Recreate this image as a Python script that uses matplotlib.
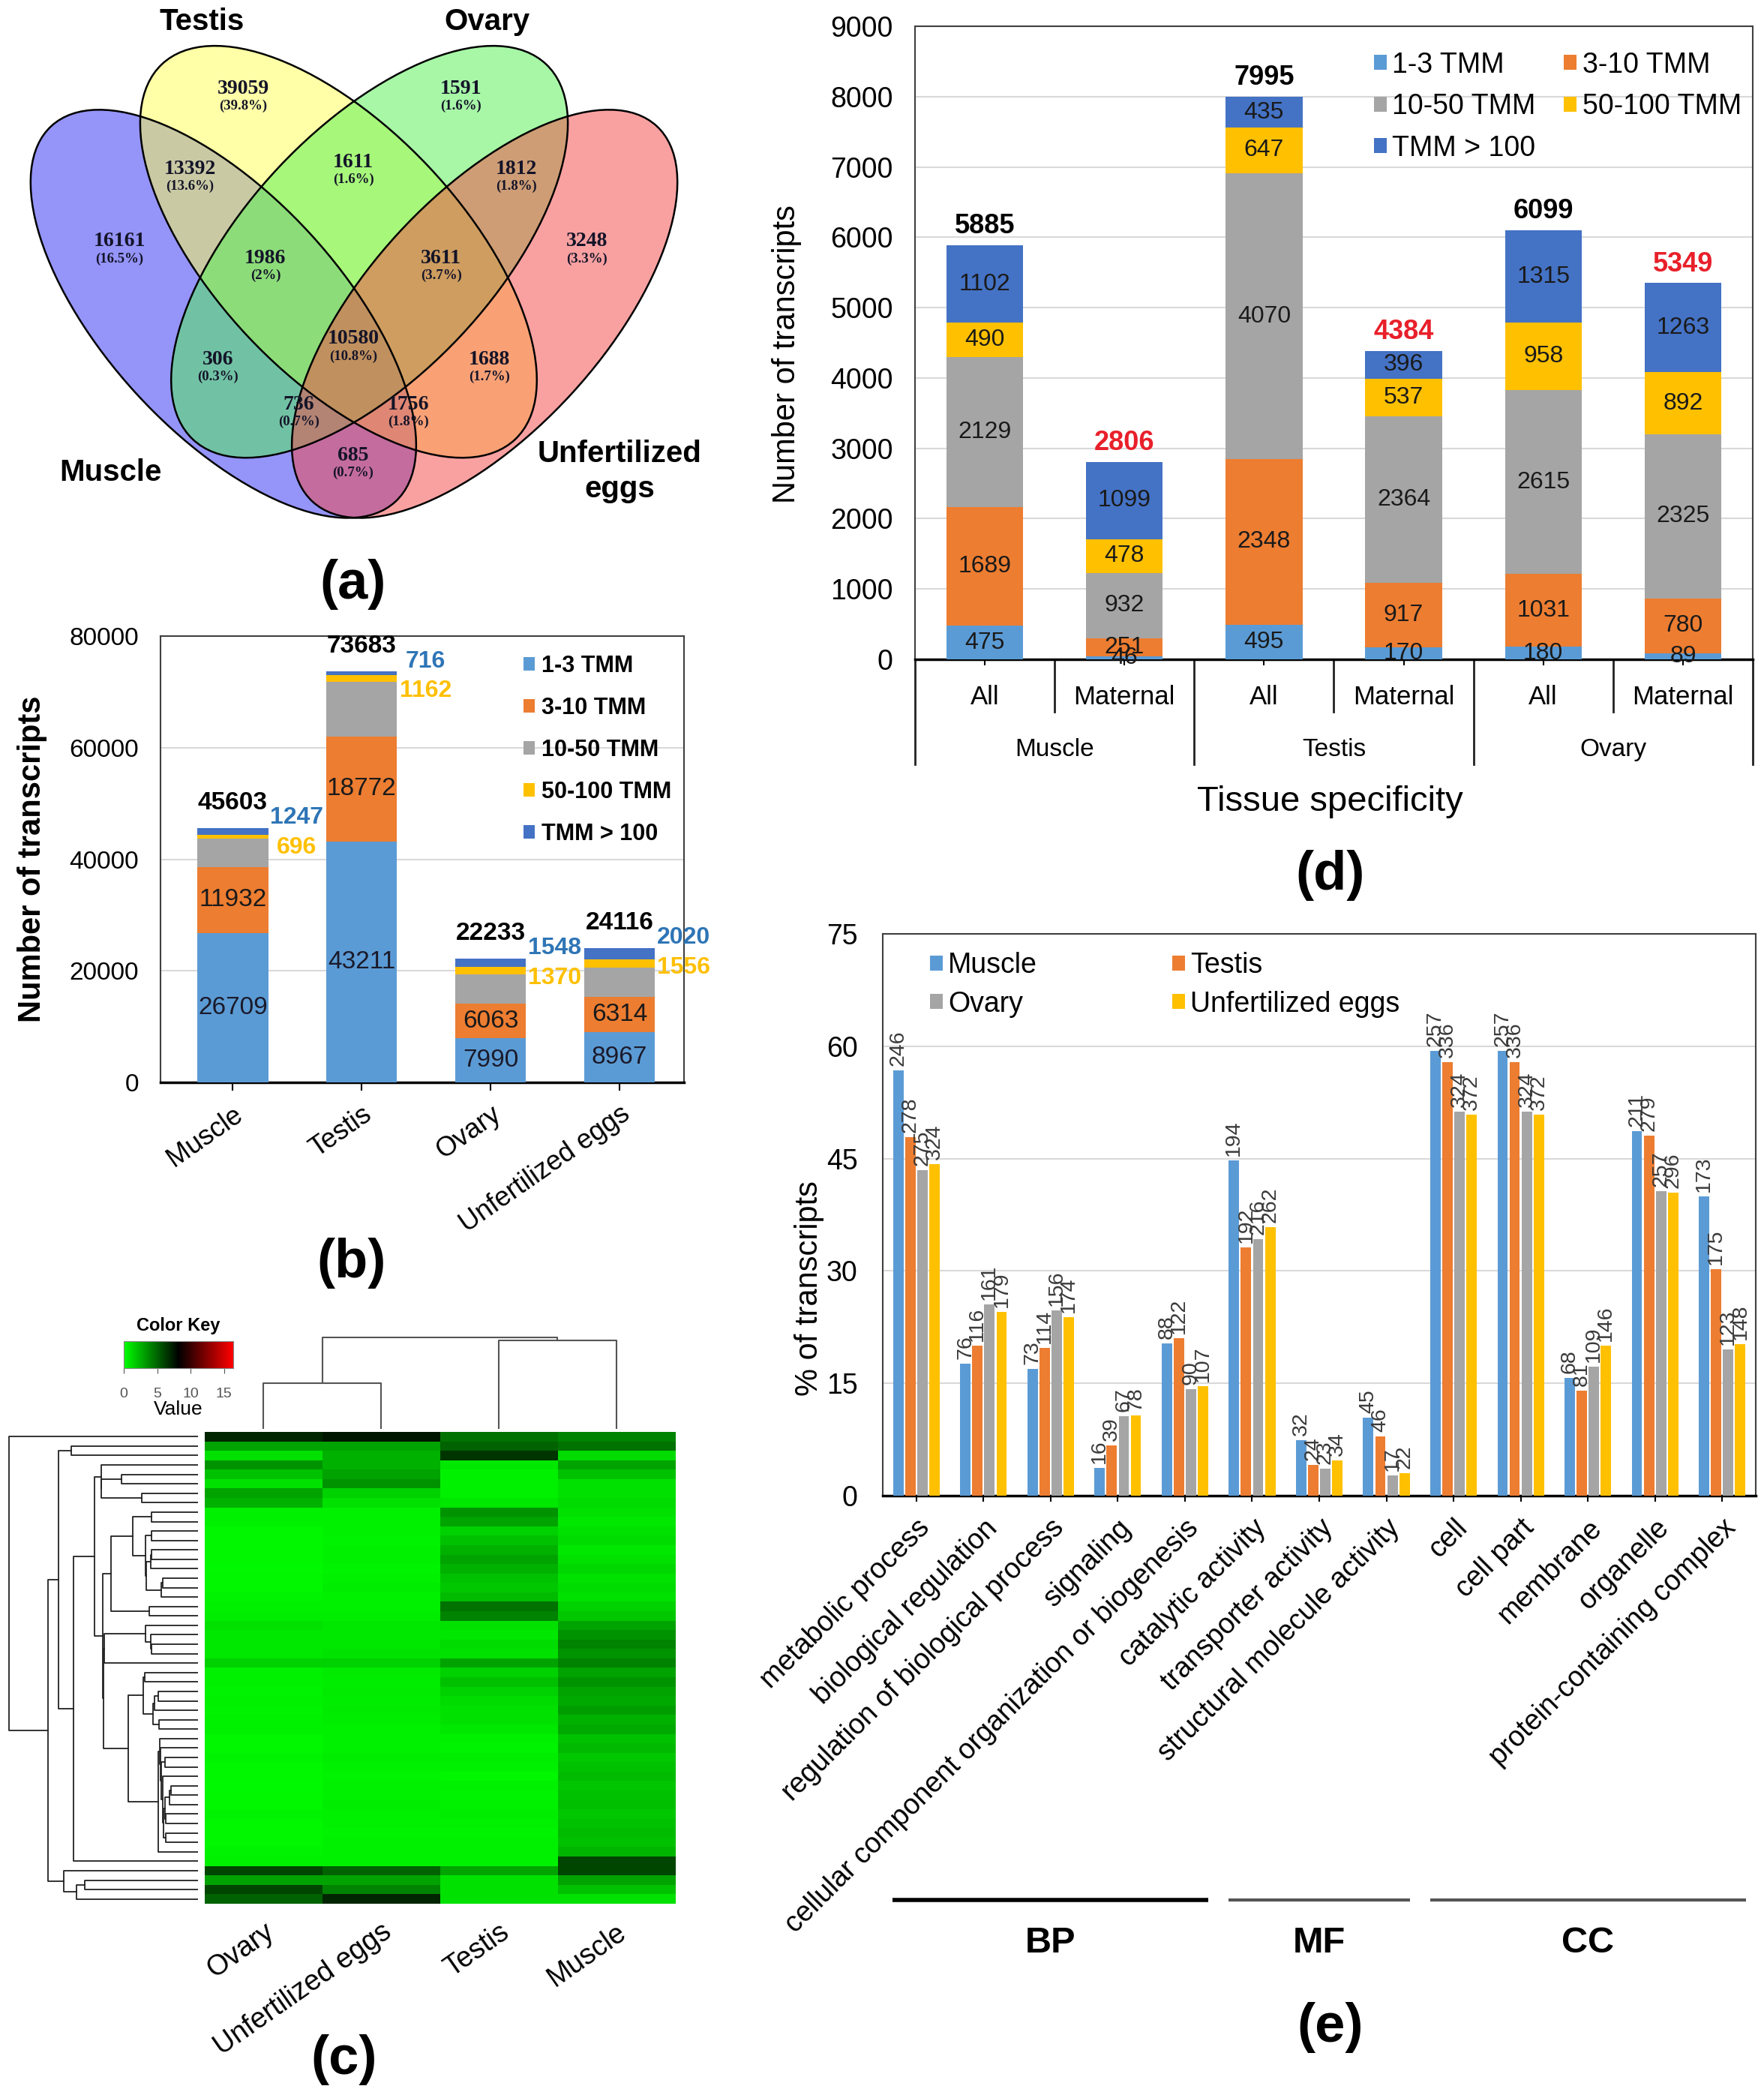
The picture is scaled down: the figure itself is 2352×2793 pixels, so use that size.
import numpy as np
import matplotlib
matplotlib.use('Agg')
import matplotlib.pyplot as plt
from matplotlib.patches import Ellipse, Patch
from matplotlib.colors import LinearSegmentedColormap, to_rgba
import matplotlib.transforms as mtransforms

plt.rcParams['font.family'] = ['Liberation Sans', 'DejaVu Sans']

# ---------------- DATA ----------------
# (a) Venn diagram
venn_sets = ['Muscle', 'Testis', 'Ovary', 'Unfertilized\neggs']
venn_regions = ['M', 'T', 'O', 'U', 'MT', 'TO', 'OU', 'MTO', 'TOU', 'MTOU', 'MO', 'TU', 'MOU', 'MTU', 'MU']
venn_counts = [16161, 39059, 1591, 3248, 13392, 1611, 1812, 1986, 3611, 10580, 306, 1688, 736, 1756, 685]

# (b) expression level classes per tissue
b_tissues = ['Muscle', 'Testis', 'Ovary', 'Unfertilized eggs']
tmm_levels = ['1-3 TMM', '3-10 TMM', '10-50 TMM', '50-100 TMM', 'TMM > 100']
b_1_3 = [26709, 43211, 7990, 8967]
b_3_10 = [11932, 18772, 6063, 6314]
b_10_50 = [5019, 9822, 5262, 5259]
b_50_100 = [696, 1162, 1370, 1556]
b_gt100 = [1247, 716, 1548, 2020]

# (c) heatmap (bands of rows; columns in dendrogram order)
hm_samples = ['Ovary', 'Unfertilized eggs', 'Testis', 'Muscle']
hm_ovary = [7.0, 3.0, 1.0, 3.5, 2.0, 1.0, 3.0, 2.5, 0.5, 0.5, 0.3, 0.3, 0.3, 0.3, 0.2, 0.3, 0.3, 0.4,
            0.5, 0.6, 1.0, 0.8, 0.8, 0.8, 1.5, 0.5, 0.5, 0.4, 0.5, 0.4, 0.5, 0.5,
            0.3, 0.3, 0.4, 0.3, 0.3, 0.2, 0.3, 0.3, 0.4, 0.3, 0.3, 0.3, 0.4, 0.5, 6.0, 3.0, 6.0, 5.0]
hm_ueggs = [7.5, 3.0, 2.5, 2.5, 3.0, 3.5, 1.5, 1.0, 0.5, 0.5, 0.5, 0.4, 0.5, 0.5, 0.4, 0.5, 0.6, 0.5,
            0.5, 0.6, 0.8, 0.8, 0.8, 0.9, 1.5, 0.7, 0.6, 0.7, 0.6, 0.7, 0.6, 0.5,
            0.5, 0.5, 0.6, 0.5, 0.4, 0.5, 0.5, 0.6, 0.5, 0.5, 0.4, 0.5, 0.5, 0.5, 5.0, 3.0, 4.0, 7.0]
hm_testis = [4.5, 5.0, 6.5, 0.8, 0.5, 0.5, 0.5, 0.8, 3.5, 3.0, 1.5, 2.0, 2.5, 3.0, 2.5, 2.0, 1.8, 2.2,
             4.5, 4.0, 1.0, 0.8, 1.2, 1.0, 3.0, 1.5, 2.0, 1.5, 1.2, 1.0, 1.0, 0.8,
             0.5, 0.4, 0.6, 0.5, 0.3, 0.5, 0.4, 0.5, 0.6, 0.5, 0.4, 0.5, 0.5, 0.5, 3.0, 1.0, 1.0, 1.0]
hm_muscle = [4.0, 4.5, 1.2, 3.0, 2.0, 1.0, 1.0, 1.2, 1.0, 0.8, 1.0, 1.2, 0.8, 1.0, 1.3, 1.0, 1.2, 1.0,
             1.5, 1.8, 3.0, 3.5, 4.0, 3.5, 4.0, 3.0, 3.5, 3.0, 2.8, 3.2, 2.5, 2.8,
             2.0, 2.3, 1.8, 2.0, 2.2, 1.9, 2.0, 2.1, 1.8, 2.0, 2.2, 2.0, 2.4, 6.0, 6.0, 3.0, 2.0, 1.0]
hm_key_max = 16.4
# column dendrogram (linkage: child, child, height); clusters 4 and 5 are the first two merges
col_link = [[0, 1, 0.50], [2, 3, 0.97], [4, 5, 1.00]]

# (d) tissue-specific transcripts
d_groups = ['Muscle', 'Testis', 'Ovary']
d_subsets = ['All', 'Maternal']
d_1_3 = [475, 46, 495, 170, 180, 89]
d_3_10 = [1689, 251, 2348, 917, 1031, 780]
d_10_50 = [2129, 932, 4070, 2364, 2615, 2325]
d_50_100 = [490, 478, 647, 537, 958, 892]
d_gt100 = [1102, 1099, 435, 396, 1315, 1263]

# (e) GO classification
go_terms = ['metabolic process', 'biological regulation', 'regulation of biological process',
            'signaling', 'cellular component organization or biogenesis', 'catalytic activity',
            'transporter activity', 'structural molecule activity', 'cell', 'cell part',
            'membrane', 'organelle', 'protein-containing complex']
go_class = ['BP', 'BP', 'BP', 'BP', 'BP', 'MF', 'MF', 'MF', 'CC', 'CC', 'CC', 'CC', 'CC']
e_series = ['Muscle', 'Testis', 'Ovary', 'Unfertilized eggs']
e_muscle_pct = [56.8, 17.6, 16.9, 3.7, 20.3, 44.8, 7.4, 10.4, 59.4, 59.4, 15.7, 48.7, 40.0]
e_testis_pct = [47.9, 20.0, 19.7, 6.7, 21.0, 33.1, 4.1, 7.9, 57.9, 57.9, 14.0, 48.1, 30.2]
e_ovary_pct = [43.5, 25.5, 24.7, 10.6, 14.2, 34.2, 3.6, 2.7, 51.3, 51.3, 17.2, 40.7, 19.5]
e_ueggs_pct = [44.3, 24.5, 23.8, 10.7, 14.6, 35.8, 4.7, 3.0, 50.9, 50.9, 20.0, 40.5, 20.2]
e_muscle_n = [246, 76, 73, 16, 88, 194, 32, 45, 257, 257, 68, 211, 173]
e_testis_n = [278, 116, 114, 39, 122, 192, 24, 46, 336, 336, 81, 279, 175]
e_ovary_n = [275, 161, 156, 67, 90, 216, 23, 17, 324, 324, 109, 257, 123]
e_ueggs_n = [324, 179, 174, 78, 107, 262, 34, 22, 372, 372, 146, 296, 148]

# ---------------- STYLE / LAYOUT ----------------
W, H = 2352, 2793
fig = plt.figure(figsize=(W / 100, H / 100), dpi=100)
fig.patch.set_facecolor('white')


def box(x0, y0, x1, y1):
    return [x0 / W, 1 - y1 / H, (x1 - x0) / W, (y1 - y0) / H]


def fx(x):
    return x / W


def fy(y):
    return 1 - y / H


C_BLUE, C_ORANGE, C_GRAY, C_GOLD, C_DBLUE = '#5B9BD5', '#ED7D31', '#A5A5A5', '#FFC000', '#4472C4'
tmm_colors = [C_BLUE, C_ORANGE, C_GRAY, C_GOLD, C_DBLUE]
GRID = '#D9D9D9'


def style_frame(ax):
    for s in ['top', 'right', 'left']:
        ax.spines[s].set_color('#404040')
        ax.spines[s].set_linewidth(1.5)
    ax.spines['bottom'].set_color('black')
    ax.spines['bottom'].set_linewidth(2.5)
    ax.yaxis.grid(True, color=GRID, lw=1.5, zorder=0)
    ax.set_axisbelow(True)
    ax.tick_params(axis='y', length=0)


# ---------------- (a) VENN ----------------
axa = fig.add_axes(box(0, 0, 944, 760))
axa.set_xlim(0.0203, 0.9797)
axa.set_ylim(0.119, 0.891)
axa.axis('off')
ell_specs = [((0.323, 0.466), 0.69, 0.32, -47.5, '#2A2AF5'),
             ((0.479, 0.550), 0.698, 0.336, -46.7, '#FFFF50'),
             ((0.521, 0.550), 0.698, 0.336, 46.7, '#50F050'),
             ((0.677, 0.466), 0.69, 0.32, 47.5, '#F54545')]
for (c, w_, h_, ang, col) in ell_specs:
    axa.add_patch(Ellipse(c, w_, h_, angle=ang, facecolor=to_rgba(col, 0.5), edgecolor='none'))
for (c, w_, h_, ang, col) in ell_specs:
    axa.add_patch(Ellipse(c, w_, h_, angle=ang, facecolor='none', edgecolor='black', lw=1.8))
region_pos = {'M': (0.182, 0.564), 'T': (0.350, 0.771), 'O': (0.645, 0.771), 'U': (0.816, 0.564),
              'MT': (0.278, 0.662), 'TO': (0.499, 0.671), 'OU': (0.720, 0.662),
              'MTO': (0.380, 0.541), 'TOU': (0.618, 0.541), 'MTOU': (0.499, 0.432),
              'MO': (0.316, 0.404), 'TU': (0.683, 0.404), 'MOU': (0.425, 0.343),
              'MTU': (0.574, 0.343), 'MU': (0.499, 0.274)}
venn_total = sum(venn_counts)
for reg, cnt in zip(venn_regions, venn_counts):
    x, y = region_pos[reg]
    pct = round(100 * cnt / venn_total, 1)
    pct_s = ('%g' % pct) + '%'
    axa.text(x, y, str(cnt), ha='center', va='center', fontsize=20, fontweight='bold',
             family=['Liberation Serif', 'DejaVu Serif'], color='#141428')
    axa.text(x, y - 0.0235, '(' + pct_s + ')', ha='center', va='center', fontsize=13.5,
             fontweight='bold', family=['Liberation Serif', 'DejaVu Serif'], color='#141428')
set_pos = [(0.170, 0.251), (0.294, 0.862), (0.680, 0.862), (0.860, 0.253)]
for name, (x, y) in zip(venn_sets, set_pos):
    axa.text(x, y, name, ha='center', va='center', fontsize=29, fontweight='bold',
             linespacing=1.3)

# ---------------- (b) STACKED BARS ----------------
axb = fig.add_axes(box(214, 848, 912, 1443))
xb = np.arange(len(b_tissues))
bw = 0.55
b_series = [b_1_3, b_3_10, b_10_50, b_50_100, b_gt100]
bottom = np.zeros(len(b_tissues))
for vals, col, lab in zip(b_series, tmm_colors, tmm_levels):
    axb.bar(xb, vals, bw, bottom=bottom, color=col, label=lab, zorder=3)
    bottom = bottom + np.array(vals)
b_tot = bottom
axb.set_xlim(-0.56, 3.5)
axb.set_ylim(0, 80000)
axb.set_yticks(range(0, 80001, 20000))
style_frame(axb)
axb.tick_params(axis='y', labelsize=24, pad=21)
axb.set_xticks(xb)
axb.set_xticklabels(b_tissues, rotation=35, ha='right', rotation_mode='anchor', fontsize=26)
axb.tick_params(axis='x', length=8, width=1.5, pad=10)
for i in range(len(b_tissues)):
    axb.text(xb[i], b_1_3[i] / 2, str(b_1_3[i]), ha='center', va='center', fontsize=24,
             color='#1a1a2a', zorder=4)
    axb.text(xb[i], b_1_3[i] + b_3_10[i] / 2, str(b_3_10[i]), ha='center', va='center',
             fontsize=24, color='#1a1a1a', zorder=4)
    axb.text(xb[i], b_tot[i] + 4500, str(int(b_tot[i])), ha='center', va='center',
             fontsize=24, fontweight='bold', zorder=4)
    axb.text(xb[i] + bw / 2 + 0.22, b_tot[i] + 1800, str(b_gt100[i]), ha='center',
             va='center', fontsize=23, fontweight='bold', color='#2E75B6', zorder=4)
    axb.text(xb[i] + bw / 2 + 0.22, b_tot[i] - 3500, str(b_50_100[i]), ha='center',
             va='center', fontsize=23, fontweight='bold', color='#FFC000', zorder=4)
axb.legend(loc='upper left', bbox_to_anchor=(0.693, 0.958), frameon=False, borderpad=0,
           borderaxespad=0, prop={'size': 22, 'weight': 'bold'}, handlelength=0.5,
           handleheight=0.5, handletextpad=0.3, labelspacing=0.85)
fig.text(fx(43), fy(1145), 'Number of transcripts', rotation=90, ha='center', va='center',
         fontsize=30, fontweight='bold')

# ---------------- (c) HEATMAP ----------------
hm = np.array([hm_ovary, hm_ueggs, hm_testis, hm_muscle]).T
n_rows = hm.shape[0]
cmap = LinearSegmentedColormap.from_list('gbr', ['#00FF00', '#000000', '#FF0000'])
axh = fig.add_axes(box(273, 1909, 900, 2538))
axh.imshow(hm, aspect='auto', cmap=cmap, vmin=0, vmax=hm_key_max, interpolation='nearest')
axh.set_xticks(range(4))
axh.set_xticklabels(hm_samples, rotation=35, ha='right', rotation_mode='anchor', fontsize=27)
axh.set_yticks([])
axh.tick_params(axis='x', length=0, pad=14)
for s in axh.spines.values():
    s.set_visible(False)


def constrained_linkage(X):
    clusters = [dict(pos=float(i), h=0.0, mean=X[i].astype(float), size=1) for i in range(len(X))]
    segs = []
    while len(clusters) > 1:
        d = [np.linalg.norm(clusters[k]['mean'] - clusters[k + 1]['mean'])
             for k in range(len(clusters) - 1)]
        k = int(np.argmin(d))
        a, b = clusters[k], clusters[k + 1]
        h = max(d[k], a['h'], b['h']) + 0.02
        segs.append((a['pos'], a['h'], b['pos'], b['h'], h))
        size = a['size'] + b['size']
        new = dict(pos=(a['pos'] + b['pos']) / 2, h=h,
                   mean=(a['mean'] * a['size'] + b['mean'] * b['size']) / size, size=size)
        clusters[k:k + 2] = [new]
    return segs


row_segs = constrained_linkage(hm)
axr = fig.add_axes(box(9, 1909, 264, 2538))
tr = lambda h: h ** 0.5
hmax = max(tr(s[4]) for s in row_segs)
for (pa, ha_, pb, hb, h) in row_segs:
    axr.plot([tr(ha_), tr(h), tr(h), tr(hb)], [pa, pa, pb, pb], color='#222222', lw=1.3)
axr.set_xlim(hmax * 1.01, 0)
axr.set_ylim(n_rows - 0.5, -0.5)
axr.axis('off')

axcd = fig.add_axes(box(273, 1782, 900, 1905))
nodes = {i: (float(i), 0.0) for i in range(4)}
for j, (c1, c2, h) in enumerate(col_link):
    x1, h1 = nodes[c1]
    x2, h2 = nodes[c2]
    axcd.plot([x1, x1, x2, x2], [h1, h, h, h2], color='#555555', lw=1.5)
    nodes[4 + j] = ((x1 + x2) / 2, h)
axcd.set_xlim(-0.5, 3.5)
axcd.set_ylim(0, 1.01)
axcd.axis('off')

axk = fig.add_axes(box(165, 1788, 311, 1824))
grad = np.linspace(0, hm_key_max, 256)[None, :]
axk.imshow(grad, aspect='auto', cmap=cmap, extent=[0, hm_key_max, 0, 1])
axk.set_yticks([])
axk.set_xticks([0, 5, 10, 15])
axk.tick_params(axis='x', labelsize=14, colors='#555555', length=5, pad=14)
axk.set_xlabel('Value', fontsize=19, labelpad=0)
axk.set_title('Color Key', fontsize=17, fontweight='bold', pad=10)
for s in axk.spines.values():
    s.set_color('#888888')

# ---------------- (d) TISSUE SPECIFIC ----------------
axd = fig.add_axes(box(1220, 35, 2337, 879))
xd = np.arange(len(d_1_3))
d_series = [d_1_3, d_3_10, d_10_50, d_50_100, d_gt100]
bottom = np.zeros(len(xd))
for vals, col, lab in zip(d_series, tmm_colors, tmm_levels):
    axd.bar(xd, vals, bw, bottom=bottom, color=col, label=lab, zorder=3)
    for i in range(len(xd)):
        axd.text(xd[i], bottom[i] + vals[i] / 2, str(vals[i]), ha='center', va='center',
                 fontsize=23, color='#1a1a1a', zorder=4)
    bottom = bottom + np.array(vals)
d_tot = bottom
for i in range(len(xd)):
    axd.text(xd[i], d_tot[i] + 270, str(int(d_tot[i])), ha='center', va='center', fontsize=26,
             fontweight='bold', color='black' if i % 2 == 0 else '#E8202A', zorder=4)
axd.set_xlim(-0.5, len(xd) - 0.5)
axd.set_ylim(0, 9000)
axd.set_yticks(range(0, 9001, 1000))
style_frame(axd)
axd.tick_params(axis='y', labelsize=27, pad=21)
axd.set_xticks(xd)
axd.set_xticklabels([])
axd.tick_params(axis='x', length=6, width=1.5)
trd = mtransforms.blended_transform_factory(axd.transData, axd.transAxes)
for i in range(len(xd)):
    axd.text(xd[i], -0.060, d_subsets[i % 2], transform=trd, ha='center', va='center',
             fontsize=25)
for g in range(len(d_groups)):
    axd.text(2 * g + 0.5, -0.143, d_groups[g], transform=trd, ha='center', va='center',
             fontsize=24)
for b_ in np.arange(-0.5, len(xd), 1.0):
    long_ = (int(round(b_ + 0.5)) % 2 == 0)
    axd.plot([b_, b_], [0, -0.166 if long_ else -0.083], transform=trd, color='#222222',
             lw=2, clip_on=False)
hd, ld = axd.get_legend_handles_labels()
order = [0, 2, 4, 1, 3]
axd.legend([hd[k] for k in order], [ld[k] for k in order], ncol=2, loc='upper left',
           bbox_to_anchor=(0.548, 0.96), frameon=False, borderpad=0, borderaxespad=0,
           fontsize=27, handlelength=0.45, handleheight=0.45, handletextpad=0.2,
           labelspacing=0.52, columnspacing=1.0)
fig.text(fx(1049), fy(472), 'Number of transcripts', rotation=90, ha='center', va='center',
         fontsize=30)
fig.text(fx(1773), fy(1069), 'Tissue specificity', ha='center', va='center', fontsize=34)

# ---------------- (e) GO ----------------
axe = fig.add_axes(box(1177, 1245, 2341, 1994))
xe = np.arange(len(go_terms))
e_pcts = [e_muscle_pct, e_testis_pct, e_ovary_pct, e_ueggs_pct]
e_ns = [e_muscle_n, e_testis_n, e_ovary_n, e_ueggs_n]
e_cols = [C_BLUE, C_ORANGE, C_GRAY, C_GOLD]
ew, estep = 0.155, 0.18
for j, (pc, nn, col, lab) in enumerate(zip(e_pcts, e_ns, e_cols, e_series)):
    xs = xe + (j - 1.5) * estep
    axe.bar(xs, pc, ew, color=col, label=lab, zorder=3)
    for x, p, n in zip(xs, pc, nn):
        axe.text(x, p + 0.6, str(n), rotation=90, ha='center', va='bottom', fontsize=20.5,
                 color='#3a3a3a', zorder=4)
axe.set_xlim(-0.5, len(go_terms) - 0.5)
axe.set_ylim(0, 75)
axe.set_yticks(range(0, 76, 15))
style_frame(axe)
axe.tick_params(axis='y', labelsize=27, pad=24)
axe.set_xticks(xe)
axe.set_xticklabels(go_terms, rotation=45, ha='right', rotation_mode='anchor', fontsize=27)
axe.tick_params(axis='x', length=6, width=1.5, pad=12)
he, le = axe.get_legend_handles_labels()
order = [0, 2, 1, 3]
axe.legend([he[k] for k in order], [le[k] for k in order], ncol=2, loc='upper left',
           bbox_to_anchor=(0.054, 0.968), frameon=False, borderpad=0, borderaxespad=0,
           fontsize=27, handlelength=0.45, handleheight=0.45, handletextpad=0.2,
           labelspacing=0.42, columnspacing=4.8)
tre = mtransforms.blended_transform_factory(axe.transData, axe.transAxes)
for k, cls in enumerate(['BP', 'MF', 'CC']):
    idx = [i for i, c in enumerate(go_class) if c == cls]
    x0, x1 = min(idx) - 0.35, max(idx) + 0.35
    axe.plot([x0, x1], [-0.72, -0.72], transform=tre, color='black' if k == 0 else '#555555',
             lw=4 if k == 0 else 3, clip_on=False, solid_capstyle='butt')
    axe.text((min(idx) + max(idx)) / 2, -0.796, cls, transform=tre, ha='center', va='center',
             fontsize=35, fontweight='bold')
fig.text(fx(1079), fy(1718), '% of transcripts', rotation=90, ha='center', va='center',
         fontsize=30)

# ---------------- panel letters ----------------
for lab, (x, y) in zip(['(a)', '(b)', '(c)', '(d)', '(e)'],
                       [(471, 779), (469, 1684), (459, 2746), (1774, 1167), (1774, 2703)]):
    fig.text(fx(x), fy(y), lab, ha='center', va='center', fontsize=52, fontweight='bold')

fig.savefig('out.png', dpi=100)
